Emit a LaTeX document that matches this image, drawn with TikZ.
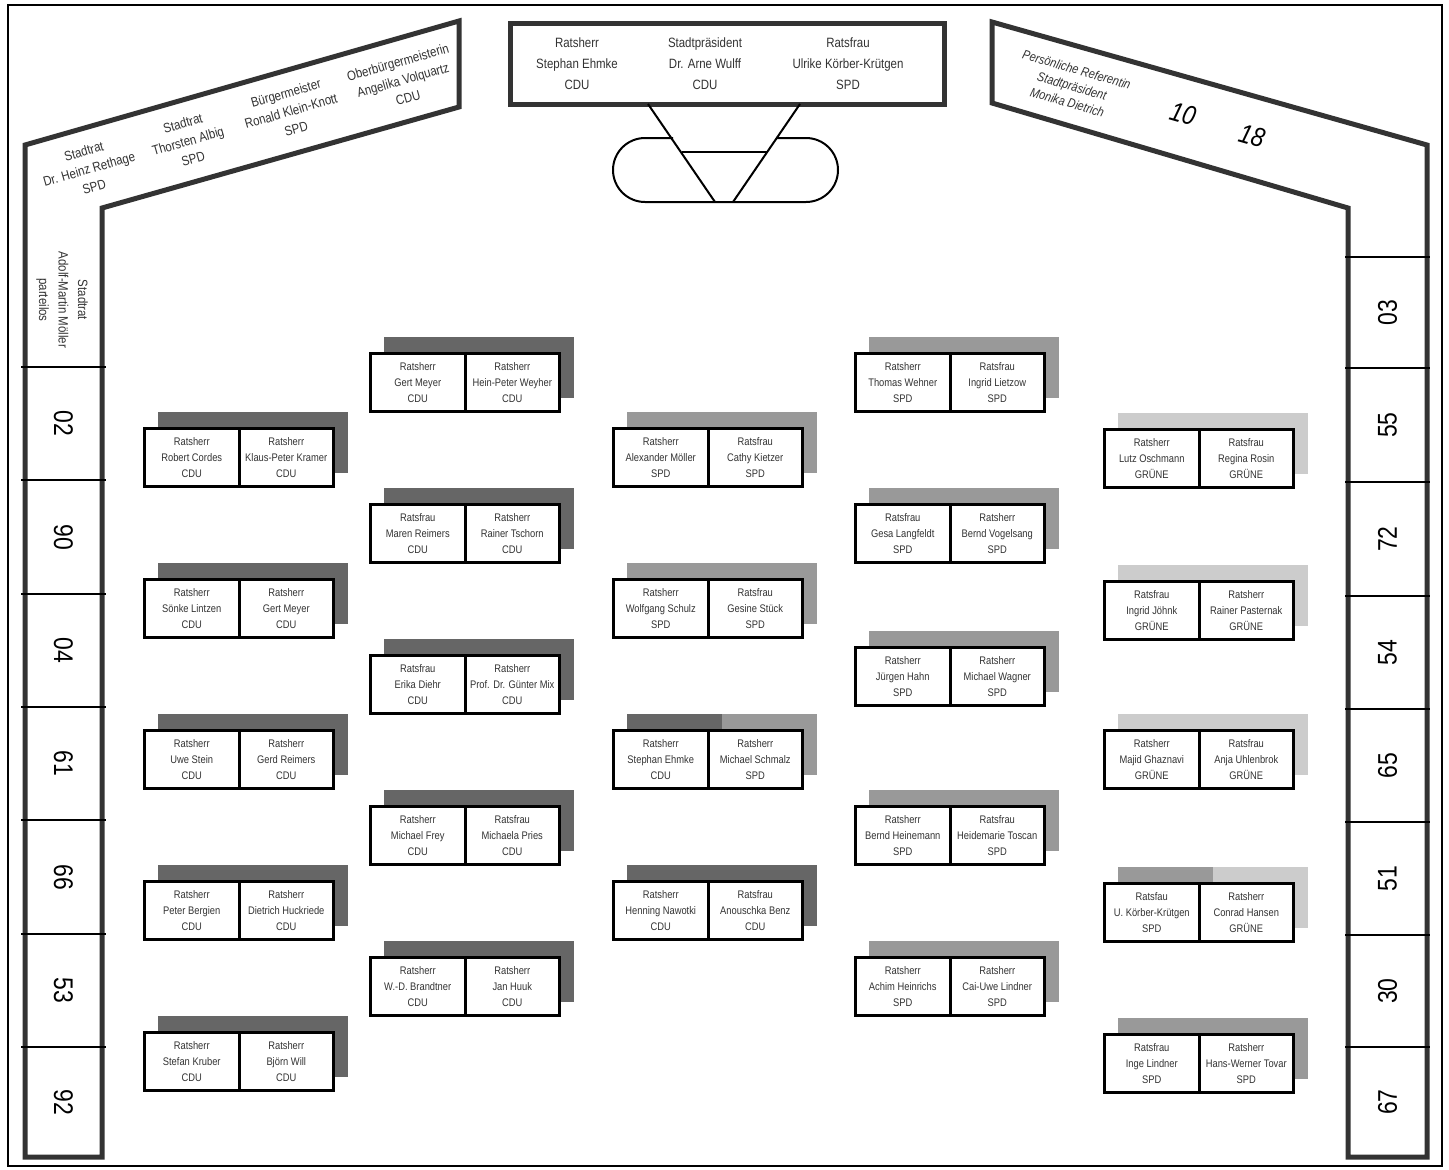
\documentclass[tikz,border=0pt]{standalone}
\usepackage{fontspec}
\setmainfont{Liberation Sans}[FakeStretch=0.85]
\definecolor{cdu}{HTML}{666666}
\definecolor{spd}{HTML}{999999}
\definecolor{gruene}{HTML}{CCCCCC}
\definecolor{frame}{HTML}{333333}
\definecolor{txt}{HTML}{333333}
\tikzset{
  card/.style={draw=black, line width=3pt, minimum width=94.5pt, minimum height=58pt,
    inner sep=0pt, align=center, fill=white, text=txt, font=\fontsize{11}{16}\selectfont},
  wall/.style={draw=frame, line width=5pt, line join=miter},
  divider/.style={draw=black, line width=1.5pt},
  seatno/.style={text=black, font=\fontsize{27}{27}\selectfont, inner sep=0pt},
  label/.style={text=txt, align=center, inner sep=0pt, font=\fontsize{13.5}{18.5}\selectfont},
  tbl/.style={draw=black, line width=2pt},
}
\newcommand\seat[7]{%
  \fill[#6] (#2+15,#3-15) rectangle (#2+109.5,#3+46);
  \fill[#7] (#2+109.5,#3-15) rectangle (#2+205,#3+46);
  \node[card,anchor=north west] (#1L) at (#2,#3) {#4};
  \node[card,anchor=north west] (#1R) at (#2+94.5,#3) {#5};
}
\begin{document}
\begin{tikzpicture}[x=1pt,y=-1pt]
\useasboundingbox (0,0) rectangle (1449,1170);
\fill[white] (0,0) rectangle (1449,1170);
% outer frame
\draw[black, line width=2pt] (8,5) rectangle (1442,1166);

% left wall
\draw[wall] (25,1157) -- (25,145) -- (459,21) -- (459,107) -- (102,208) -- (102,1157) -- cycle;
\foreach \yy in {367,480,594,707,820,934,1047} \draw[divider] (21,\yy) -- (106,\yy);
\node[seatno, rotate=-90] (l02) at (63.5,423.5) {02};
\node[seatno, rotate=-90] (l90) at (63.5,537) {90};
\node[seatno, rotate=-90] (l04) at (63.5,650.5) {04};
\node[seatno, rotate=-90] (l61) at (63.5,763.5) {61};
\node[seatno, rotate=-90] (l66) at (63.5,877) {66};
\node[seatno, rotate=-90] (l53) at (63.5,990.5) {53};
\node[seatno, rotate=-90] (l92) at (63.5,1102) {92};
\node[label, rotate=-90, font=\fontsize{13.5}{19.5}\selectfont] (moeller) at (62,300) {Stadtrat\\Adolf-Martin Möller\\parteilos};

% left slanted labels
\node[label, rotate=16] (rethage) at (89,169) {Stadtrat\\Dr. Heinz Rethage\\SPD};
\node[label, rotate=16] (albig) at (188,141) {Stadtrat\\Thorsten Albig\\SPD};
\node[label, rotate=16] (kleinknott) at (291,111) {Bürgermeister\\Ronald Klein-Knott\\SPD};
\node[label, rotate=16] (volquartz) at (403,80) {Oberbürgermeisterin\\Angelika Volquartz\\CDU};

% right wall
\draw[wall] (1427,1157) -- (1427,145) -- (992,22) -- (992,103) -- (1348,208) -- (1348,1157) -- cycle;
\foreach \yy in {257,368,482,596,709,822,935,1047} \draw[divider] (1345,\yy) -- (1430,\yy);
\node[seatno, rotate=90] (r03) at (1387.5,312.5) {03};
\node[seatno, rotate=90] (r55) at (1387.5,425) {55};
\node[seatno, rotate=90] (r72) at (1387.5,539) {72};
\node[seatno, rotate=90] (r54) at (1387.5,652.5) {54};
\node[seatno, rotate=90] (r65) at (1387.5,765.5) {65};
\node[seatno, rotate=90] (r51) at (1387.5,878.5) {51};
\node[seatno, rotate=90] (r30) at (1387.5,991) {30};
\node[seatno, rotate=90] (r67) at (1387.5,1102) {67};
\node[label, rotate=-16, font=\fontsize{13}{17}\selectfont\itshape] (dietrich) at (1072,86) {Persönliche Referentin\\Stadtpräsident\\Monika Dietrich};
\node[seatno, rotate=-16, font=\fontsize{27}{27}\selectfont\itshape] (n10) at (1183,114) {10};
\node[seatno, rotate=-16, font=\fontsize{27}{27}\selectfont\itshape] (n18) at (1252,136) {18};

% presidium
\node[draw=frame, line width=5pt, minimum width=434pt, minimum height=81pt, inner sep=0pt, anchor=north west] (praes) at (508,21) {};
\node[label, font=\fontsize{13.5}{21}\selectfont] (ehmkeP) at (577,64) {Ratsherr\\Stephan Ehmke\\CDU};
\node[label, font=\fontsize{13.5}{21}\selectfont] (wulff) at (705,64) {Stadtpräsident\\Dr. Arne Wulff\\CDU};
\node[label, font=\fontsize{13.5}{21}\selectfont] (koerberP) at (848,64) {Ratsfrau\\Ulrike Körber-Krütgen\\SPD};
% speaker's table
\draw[tbl, rounded corners=32pt] (673,138) -- (613,138) -- (613,202) -- (838,202) -- (838,138) -- (776,138);
\draw[tbl] (648,104) -- (715,202);
\draw[tbl] (800,104) -- (733,202);
\draw[tbl] (682,152) -- (767,152);

% column 1
\seat{a1}{143}{427}{Ratsherr\\Robert Cordes\\CDU}{Ratsherr\\Klaus-Peter Kramer\\CDU}{cdu}{cdu}
\seat{a2}{143}{578}{Ratsherr\\Sönke Lintzen\\CDU}{Ratsherr\\Gert Meyer\\CDU}{cdu}{cdu}
\seat{a3}{143}{729}{Ratsherr\\Uwe Stein\\CDU}{Ratsherr\\Gerd Reimers\\CDU}{cdu}{cdu}
\seat{a4}{143}{880}{Ratsherr\\Peter Bergien\\CDU}{Ratsherr\\Dietrich Huckriede\\CDU}{cdu}{cdu}
\seat{a5}{143}{1031}{Ratsherr\\Stefan Kruber\\CDU}{Ratsherr\\Björn Will\\CDU}{cdu}{cdu}
% column 2
\seat{b1}{369}{352}{Ratsherr\\Gert Meyer\\CDU}{Ratsherr\\Hein-Peter Weyher\\CDU}{cdu}{cdu}
\seat{b2}{369}{503}{Ratsfrau\\Maren Reimers\\CDU}{Ratsherr\\Rainer Tschorn\\CDU}{cdu}{cdu}
\seat{b3}{369}{654}{Ratsfrau\\Erika Diehr\\CDU}{Ratsherr\\Prof. Dr. Günter Mix\\CDU}{cdu}{cdu}
\seat{b4}{369}{805}{Ratsherr\\Michael Frey\\CDU}{Ratsfrau\\Michaela Pries\\CDU}{cdu}{cdu}
\seat{b5}{369}{956}{Ratsherr\\W.-D. Brandtner\\CDU}{Ratsherr\\Jan Huuk\\CDU}{cdu}{cdu}
% column 3
\seat{c1}{612}{427}{Ratsherr\\Alexander Möller\\SPD}{Ratsfrau\\Cathy Kietzer\\SPD}{spd}{spd}
\seat{c2}{612}{578}{Ratsherr\\Wolfgang Schulz\\SPD}{Ratsfrau\\Gesine Stück\\SPD}{spd}{spd}
\seat{c3}{612}{729}{Ratsherr\\Stephan Ehmke\\CDU}{Ratsherr\\Michael Schmalz\\SPD}{cdu}{spd}
\seat{c4}{612}{880}{Ratsherr\\Henning Nawotki\\CDU}{Ratsfrau\\Anouschka Benz\\CDU}{cdu}{cdu}
% column 4
\seat{d1}{854}{352}{Ratsherr\\Thomas Wehner\\SPD}{Ratsfrau\\Ingrid Lietzow\\SPD}{spd}{spd}
\seat{d2}{854}{503}{Ratsfrau\\Gesa Langfeldt\\SPD}{Ratsherr\\Bernd Vogelsang\\SPD}{spd}{spd}
\seat{d3}{854}{646}{Ratsherr\\Jürgen Hahn\\SPD}{Ratsherr\\Michael Wagner\\SPD}{spd}{spd}
\seat{d4}{854}{805}{Ratsherr\\Bernd Heinemann\\SPD}{Ratsfrau\\Heidemarie Toscan\\SPD}{spd}{spd}
\seat{d5}{854}{956}{Ratsherr\\Achim Heinrichs\\SPD}{Ratsherr\\Cai-Uwe Lindner\\SPD}{spd}{spd}
% column 5
\seat{e1}{1103}{428}{Ratsherr\\Lutz Oschmann\\GRÜNE}{Ratsfrau\\Regina Rosin\\GRÜNE}{gruene}{gruene}
\seat{e2}{1103}{580}{Ratsfrau\\Ingrid Jöhnk\\GRÜNE}{Ratsherr\\Rainer Pasternak\\GRÜNE}{gruene}{gruene}
\seat{e3}{1103}{729}{Ratsherr\\Majid Ghaznavi\\GRÜNE}{Ratsfrau\\Anja Uhlenbrok\\GRÜNE}{gruene}{gruene}
\seat{e4}{1103}{882}{Ratsfau\\U. Körber-Krütgen\\SPD}{Ratsherr\\Conrad Hansen\\GRÜNE}{spd}{gruene}
\seat{e5}{1103}{1033}{Ratsfrau\\Inge Lindner\\SPD}{Ratsherr\\Hans-Werner Tovar\\SPD}{spd}{spd}
\end{tikzpicture}
\end{document}
